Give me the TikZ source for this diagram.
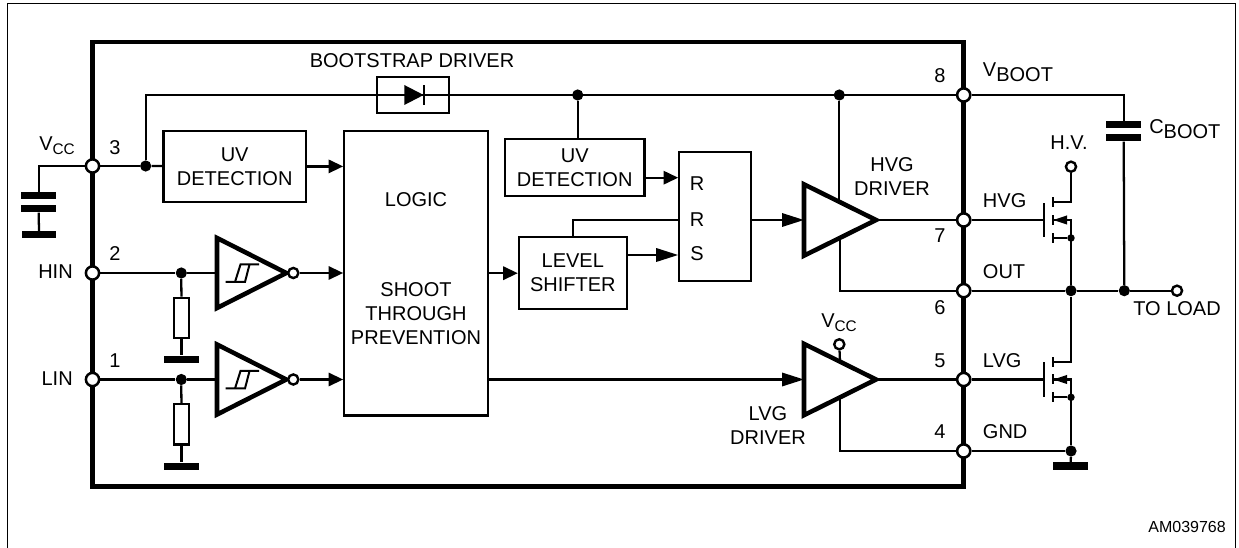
\documentclass[tikz,border=0pt]{standalone}
\usepackage{fontspec}
\setmainfont{Liberation Sans}
\usetikzlibrary{arrows.meta,shapes.geometric}
\newcommand{\lowsmall}[1]{\raisebox{-3pt}{\fontsize{11.5}{14}\selectfont #1}}
\newcommand{\lowbig}[1]{\raisebox{-4pt}{#1}}
\begin{document}
\begin{tikzpicture}[x=0.75pt,y=-0.75pt]

              % Definitions
              \tikzstyle{wire} = [line width=1.7pt]
              \tikzstyle{arrow} = [wire,-{Triangle[length=11pt,width=10pt]}]
              \tikzstyle{bigarrow} = [wire,-{Triangle[length=16.5pt,width=10pt]}]
              \tikzstyle{Block} = [rectangle, draw=black, line width=1.7pt, text centered, align=center, inner sep=0pt, font=\fontsize{15}{18}\selectfont]
              \tikzstyle{Label} = [inner sep=0pt, align=center, font=\fontsize{15}{18}\selectfont]
              \tikzstyle{Pad} = [circle, draw=black, fill=white, line width=1.9pt, minimum size=9.9pt, inner sep=0pt]
              \tikzstyle{PadSmall} = [circle, draw=black, fill=white, line width=1.8pt, minimum size=7.6pt, inner sep=0pt]
              \tikzstyle{Dot} = [circle, fill=black, minimum size=8.4pt, inner sep=0pt]
              \tikzstyle{DotSmall} = [circle, fill=black, minimum size=5.6pt, inner sep=0pt]
              \tikzstyle{Plate} = [rectangle, fill=black, minimum width=26pt, minimum height=5.5pt, inner sep=0pt]
              \tikzstyle{Driver} = [isosceles triangle, isosceles triangle stretches, draw=black, fill=white, line width=3.4pt, minimum width=53.5pt, minimum height=54pt, inner sep=0pt, outer sep=0pt, anchor=lower side]
              \tikzstyle{Buffer} = [Driver, minimum width=52.5pt, minimum height=52pt]
              \tikzstyle{Head} = [isosceles triangle, isosceles triangle stretches, fill=black, inner sep=0pt, outer sep=0pt]
              \tikzstyle{Bar} = [rectangle, fill=black, inner sep=0pt]
              \tikzset{hysteresis/.pic={
                \draw [line width=1.5pt] (-16.5,9) -- (3,9) -- (7.5,-8.5);
                \draw [line width=1.5pt] (17,-8.5) -- (-1.5,-8.5) -- (-7,9);
              }}

              \useasboundingbox (0,0) rectangle (1239,548);
              \draw [line width=1.1pt] (7.5,548) -- (7.5,3.5) -- (1235.5,3.5) -- (1235.5,548);

              % Package outline and pads
              \node (chip) [rectangle, draw=black, line width=3.4pt, minimum width=653.4pt, minimum height=333.5pt] at (528.1,264.4) {};
              \node (padVcc) [Pad] at (92.5,166) {};
              \node (padHin) [Pad] at (92.5,273) {};
              \node (padLin) [Pad] at (92.5,379.5) {};
              \node (padBoot) [Pad] at (963.7,95) {};
              \node (padHvg) [Pad] at (963.7,220) {};
              \node (padOut) [Pad] at (963.7,290.7) {};
              \node (padLvg) [Pad] at (963.7,379.5) {};
              \node (padGnd) [Pad] at (963.7,451) {};

              % Blocks
              \node (uvA) [Block, minimum width=107pt, minimum height=53.5pt] at (234.7,166.4) {UV\\DETECTION};
              \node (uvB) [Block, minimum width=104.5pt, minimum height=42.5pt] at (574.7,167.7) {UV\\DETECTION};
              \node (logic) [Block, minimum width=108pt, minimum height=213.5pt] at (416.3,273.3) {};
              \node (shifter) [Block, minimum width=80.8pt, minimum height=53.8pt] at (572.8,273.2) {LEVEL\\SHIFTER};
              \node (latch) [Block, minimum width=53.5pt, minimum height=96.8pt] at (715,216.2) {};
              \node (diodeBox) [Block, minimum width=54.2pt, minimum height=27pt] at (413,95.3) {};

              % Amplifiers
              \node (drvHvg) [Driver] at (804,220) {};
              \node (drvLvg) [Driver] at (804,379.5) {};
              \node (bufHin) [Buffer] at (217,273) {};
              \node (bufLin) [Buffer] at (217,379.5) {};
              \node (bubHin) [PadSmall] at (293.3,273) {};
              \node (bubLin) [PadSmall] at (293.3,379.5) {};
              \pic at (242,273) {hysteresis};
              \pic at (242,379.5) {hysteresis};

              % Junctions and terminals
              \node (dotVcc) [Dot] at (145.7,166) {};
              \node (dotUvB) [Dot] at (577.7,95) {};
              \node (dotBoot) [Dot] at (839.3,95) {};
              \node (dotHin) [Dot] at (181.3,273) {};
              \node (dotLin) [Dot] at (181.3,379.5) {};
              \node (dotHs) [Dot] at (1071,290.7) {};
              \node (dotCap) [Dot] at (1124.3,290.7) {};
              \node (dotLs) [Dot] at (1071,451) {};
              \node (dotHb) [DotSmall] at (1071,238) {};
              \node (dotLb) [DotSmall] at (1071,397.3) {};
              \node (termLoad) [PadSmall] at (1177,290.7) {};
              \node (termHv) [PadSmall] at (1071,166.7) {};
              \node (termVcc) [PadSmall] at (839.3,344.3) {};

              % Passive parts
              \node (capA) [Plate] at (38.7,195.7) {};
              \node (capB) [Plate] at (38.7,208.7) {};
              \node (gndCap) [Plate] at (39,234.7) {};
              \node (resHin) [Block, minimum width=11.5pt, minimum height=30.2pt] at (181.5,318) {};
              \node (gndHin) [Plate] at (181.5,359.3) {};
              \node (resLin) [Block, minimum width=11.5pt, minimum height=30.2pt] at (181.5,424.5) {};
              \node (gndLin) [Plate] at (181.5,466.3) {};
              \node (bootA) [Plate] at (1123.7,124.7) {};
              \node (bootB) [Plate] at (1123.7,137.7) {};
              \node (gndLs) [Plate] at (1070.7,466) {};

              % Bootstrap diode
              \node (diodeHead) [Head, minimum width=15pt, minimum height=14.5pt, anchor=lower side] at (404.3,95) {};
              \node (diodeBar) [Bar, minimum width=1.5pt, minimum height=15pt] at (424.3,95) {};

              % High side transistor
              \node (gateH) [Bar, minimum width=1.7pt, minimum height=26pt] at (1044.3,220) {};
              \node (drainH) [Bar, minimum width=1.7pt, minimum height=7.5pt] at (1052.7,202) {};
              \node (sourceH) [Bar, minimum width=1.7pt, minimum height=7.5pt] at (1052.7,220) {};
              \node (bodyH) [Bar, minimum width=1.7pt, minimum height=7.5pt] at (1052.7,238) {};
              \node (headH) [Head, shape border rotate=180, minimum width=7pt, minimum height=10.3pt, anchor=apex] at (1053.5,220) {};

              % Low side transistor
              \node (gateL) [Bar, minimum width=1.7pt, minimum height=26pt] at (1044.3,379.5) {};
              \node (drainL) [Bar, minimum width=1.7pt, minimum height=7.5pt] at (1052.7,362) {};
              \node (sourceL) [Bar, minimum width=1.7pt, minimum height=7.5pt] at (1052.7,379.5) {};
              \node (bodyL) [Bar, minimum width=1.7pt, minimum height=7.5pt] at (1052.7,397.3) {};
              \node (headL) [Head, shape border rotate=180, minimum width=7pt, minimum height=10.3pt, anchor=apex] at (1053.5,379.5) {};

              % Connections, left side
              \draw [wire] (padVcc) -- (dotVcc);
              \draw [wire] (dotVcc) -- (uvA);
              \draw [wire] (dotVcc) |- (padBoot);
              \draw [wire] (padVcc) -| (capA);
              \draw [wire] (capB) -- (gndCap);
              \draw [arrow] (uvA.east) -- (uvA.east -| logic.west);
              \draw [wire] (padHin) -- (dotHin);
              \draw [wire] (dotHin) -- (bufHin.lower side);
              \draw [wire] (dotHin) -- (resHin);
              \draw [wire] (resHin) -- (gndHin);
              \draw [arrow] (bubHin) -- (bubHin -| logic.west);
              \draw [wire] (padLin) -- (dotLin);
              \draw [wire] (dotLin) -- (bufLin.lower side);
              \draw [wire] (dotLin) -- (resLin);
              \draw [wire] (resLin) -- (gndLin);
              \draw [arrow] (bubLin) -- (bubLin -| logic.west);

              % Connections, middle
              \draw [wire] (dotUvB) -- (dotUvB |- uvB.north);
              \draw [arrow] (uvB.east |- 0,177.7) -- (latch.west |- 0,177.7);
              \draw [arrow] (logic.east |- shifter) -- (shifter);
              \draw [bigarrow] (shifter.east |- 0,255) -- (latch.west |- 0,255);
              \draw [wire] (shifter.north) |- (latch.west |- 0,220);
              \draw [bigarrow] (latch.east |- drvHvg.lower side) -- (drvHvg.lower side);
              \draw [bigarrow] (logic.east |- drvLvg.lower side) -- (drvLvg.lower side);

              % Connections, right side
              \draw [wire] (dotBoot) -- (dotBoot |- drvHvg.left side);
              \draw [wire] (drvHvg.right side) |- (padOut);
              \draw [wire] (drvHvg.apex) -- (padHvg);
              \draw [wire] (drvLvg.apex) -- (padLvg);
              \draw [wire] (drvLvg.right side) |- (padGnd);
              \draw [wire] (termVcc) -- (drvLvg.left side);
              \draw [wire] (padOut) -- (dotHs);
              \draw [wire] (dotHs) -- (dotCap);
              \draw [wire] (dotCap) -- (termLoad);
              \draw [wire] (padBoot) -| (bootA);
              \draw [wire] (bootB) -- (dotCap);
              \draw [wire] (padHvg) -- (gateH);
              \draw [wire] (drainH) -| (termHv);
              \draw [wire] (sourceH) -| (dotHs);
              \draw [wire] (bodyH) -- (dotHb);
              \draw [wire] (padLvg) -- (gateL);
              \draw [wire] (drainL) -| (dotHs);
              \draw [wire] (sourceL) -| (dotLs);
              \draw [wire] (bodyL) -- (dotLb);
              \draw [wire] (padGnd) -- (dotLs);
              \draw [wire] (dotLs) -- (gndLs);

              % Texts
              \node (txtBoot) [Label] at (412,61) {BOOTSTRAP DRIVER};
              \node (txtLogic) [Label] at (416,200) {LOGIC};
              \node (txtShoot) [Label] at (416,314) {SHOOT\\THROUGH\\PREVENTION};
              \node (txtRa) [Label] at (697,184) {R};
              \node (txtRb) [Label] at (697,219.5) {R};
              \node (txtS) [Label] at (697,254) {S};
              \node (txtHvg) [Label] at (892,176.5) {HVG\\DRIVER};
              \node (txtLvg) [Label] at (768,426) {LVG\\DRIVER};
              \node (txtVccA) [Label, anchor=west] at (39,146) {V\lowsmall{CC}};
              \node (txtVccB) [Label] at (839,323) {V\lowsmall{CC}};
              \node (txtHin) [Label, anchor=east] at (73,272) {HIN};
              \node (txtLin) [Label, anchor=east] at (73,379) {LIN};
              \node (numC) [Label] at (115,148) {3};
              \node (numB) [Label] at (115,254) {2};
              \node (numA) [Label] at (115,361) {1};
              \node (numH) [Label] at (940,76) {8};
              \node (numG) [Label] at (940,235.5) {7};
              \node (numF) [Label] at (940,308) {6};
              \node (numE) [Label] at (940,361) {5};
              \node (numD) [Label] at (940,432) {4};
              \node (txtVboot) [Label, anchor=west] at (982.7,72) {V\lowbig{BOOT}};
              \node (txtHvgPin) [Label, anchor=west] at (982.7,200.5) {HVG};
              \node (txtOut) [Label, anchor=west] at (982.7,271.5) {OUT};
              \node (txtLvgPin) [Label, anchor=west] at (982.7,361) {LVG};
              \node (txtGnd) [Label, anchor=west] at (982.7,432) {GND};
              \node (txtHv) [Label] at (1069,143) {H.V.};
              \node (txtCboot) [Label, anchor=west] at (1149,129) {C\lowbig{BOOT}};
              \node (txtLoad) [Label] at (1177,309) {TO LOAD};
              \node (txtCode) [inner sep=0pt, anchor=east, font=\fontsize{12}{14}\selectfont] at (1226,526.7) {AM039768};

            \end{tikzpicture}
\end{document}
